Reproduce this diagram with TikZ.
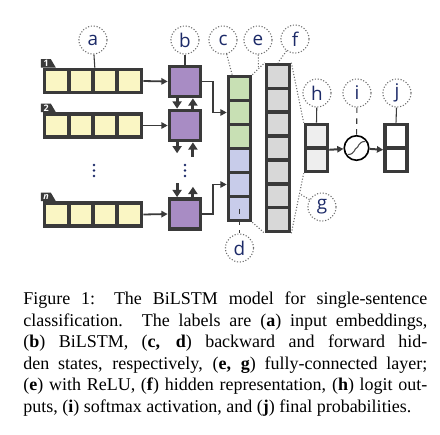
\documentclass[tikz,border=0pt]{standalone}
\usepackage{fontspec}
\setmainfont{Liberation Serif}
\setsansfont{Open Sans}
\usetikzlibrary{arrows.meta, positioning, calc}
\definecolor{cLine}{RGB}{58,58,58}
\definecolor{cEmb}{RGB}{250,246,196}
\definecolor{cLstm}{RGB}{168,140,196}
\definecolor{cBack}{RGB}{200,224,180}
\definecolor{cFwd}{RGB}{200,204,234}
\definecolor{cHid}{RGB}{216,216,216}
\definecolor{cLogit}{RGB}{238,238,238}
\definecolor{cTag}{RGB}{28,42,104}
\tikzset{
	embcell/.style ={rectangle, draw=cLine, line width=2pt, fill=cEmb, minimum width=13.5pt, minimum height=12.8pt, inner sep=0pt},
	lstm/.style    ={rectangle, draw=cLine, line width=2pt, fill=cLstm, minimum width=17.2pt, minimum height=16.7pt, inner sep=0pt},
	vcell/.style   ={rectangle, draw=cLine, line width=2pt, minimum width=12.2pt, minimum height=13.3pt, inner sep=0pt},
	hcell/.style   ={rectangle, draw=cLine, line width=2pt, fill=cHid, minimum width=12.8pt, minimum height=13.26pt, inner sep=0pt},
	ocell/.style   ={rectangle, draw=cLine, line width=2pt, minimum width=12.2pt, minimum height=13.06pt, inner sep=0pt},
	rowno/.style   ={inner sep=0pt, text=white, font=\sffamily\bfseries\fontsize{5}{5}\selectfont},
	% label bubbles
	tag/.style     ={circle, draw=gray!85!black, densely dotted, line width=0.6pt, fill=white, minimum size=15.6pt, inner sep=0pt, text=cTag, font=\sffamily\fontsize{10.5}{10.5}\selectfont},
	tagline/.style ={cLine, line width=0.6pt},
	tagdash/.style ={cLine, line width=0.6pt, dashed},
	dotline/.style ={gray!85!black, line width=0.6pt, densely dotted},
	% signal arrows
	sig/.style     ={-{Triangle[length=3.5pt, width=3.5pt]}, cLine, line width=1pt},
	rec/.style     ={-{Triangle[length=4pt, width=5pt]}, cLine, line width=1.7pt},
	caption/.style ={anchor=north west, inner sep=0pt, text width=224.5pt, align=justify, font=\fontsize{10}{12}\selectfont},
}
\begin{document}
\begin{tikzpicture}[x=0.5556pt, y=-0.5556pt]
\useasboundingbox (0,0) rectangle (440,434);
% input embeddings
\foreach \r/\y/\t in {1/81/1, 2/125.5/2, n/214.5/\textit{n}} {
	\foreach \k in {1,...,4}
		\node[embcell] (e\r-\k) at ({56.6+24.25*(\k-1)},\y) {};
	\fill[cLine] (e\r-1.north west) ++(-1.8,0) -- ++(0,-8.5) -- ++(10,0) -- ++(5,8.5) -- cycle;
	\node[rowno] (n\r) at ($(e\r-1.north west)+(3.5,-4.2)$) {\t};
}
% BiLSTM cells
\node[lstm] (l1) at (185,81.5) {};
\node[lstm] (l2) at (185,125.5) {};
\node[lstm] (ln) at (185,214) {};
\coordinate (gapT) at (185,156);
\coordinate (gapB) at (185,185);
\foreach \r in {1,2,n}
	\draw[sig] (e\r-4.east) -- (l\r.west);
\draw[rec] ([xshift=-4.4pt]l1.south) -- ([xshift=-4.4pt]l2.north);
\draw[rec] ([xshift=4.4pt]l2.north) -- ([xshift=4.4pt]l1.south);
\draw[rec] ([xshift=-4.4pt]l2.south) -- ([xshift=-4.4pt,yshift=1.5pt]gapT);
\draw[rec] ([xshift=4.4pt,yshift=-0.5pt]gapT) -- ([xshift=4.4pt]l2.south);
\draw[rec] ([xshift=-4.4pt,yshift=1pt]gapB) -- ([xshift=-4.4pt]ln.north);
\draw[rec] ([xshift=4.4pt]ln.north) -- ([xshift=4.4pt,yshift=-1pt]gapB);
\foreach \x in {94,185}
	\foreach \y in {165,170.5,176}
		\fill[cTag] (\x,\y) circle (1.4);
% backward / forward states
\foreach \k/\y in {1/88.5, 2/112.5, 3/136.5}
	\node[vcell, fill=cBack] (c\k) at (239.5,\y) {};
\foreach \k/\y in {4/160.5, 5/184.5, 6/208.5}
	\node[vcell, fill=cFwd] (c\k) at (239.5,\y) {};
\draw[sig, line width=0.9pt] (l1.east) -- ++(11,0) |- (c2.west);
\draw[sig, line width=0.9pt] (ln.east) -- ++(11,0) |- (c5.west);
% hidden representation
\foreach \k in {1,...,7}
	\node[hcell] (f\k) at (278,{76.4+23.86*(\k-1)}) {};
% logits, softmax, probabilities
\node[ocell, fill=cLogit] (h1) at (316.5,136.25) {};
\node[ocell, fill=cLogit] (h2) at (316.5,159.75) {};
\node[ocell, fill=white] (j1) at (396,136.25) {};
\node[ocell, fill=white] (j2) at (396,159.75) {};
\node[circle, draw=black, line width=0.9pt, minimum size=13.6pt, inner sep=0pt] (sg) at (356.5,148) {};
\draw[gray!60!black, line width=0.6pt] (348,154.5) .. controls (355,154.5) and (354.5,148) .. (356.5,148) .. controls (358.5,148) and (358,141.5) .. (365,141.5);
\draw[sig, line width=1.1pt] (h1.south east) -- (sg);
\draw[sig, line width=1.1pt] (sg) -- (j1.south west);
% fully-connected projections
\draw[dotline] (c1.north east) -- (f1.north west);
\draw[dotline] (c6.south east) -- (f7.south west);
\draw[dotline] (f1.north east) -- (h1.north west);
\draw[dotline] (f7.south east) -- (h2.south west);
% label bubbles
\node[tag] (ta) at (93,40) {a};
\node[tag] (tb) at (185,40) {b};
\node[tag] (tc) at (223,40) {c};
\node[tag] (te) at (258,40) {e};
\node[tag] (tf) at (295,39) {f};
\node[tag] (th) at (317,93) {h};
\node[tag] (ti) at (357,93) {i};
\node[tag] (tj) at (397,93) {j};
\node[tag] (td) at (239.5,248) {d};
\node[tag] (tg) at (322,207) {g};
\draw[tagline] (ta) -- (e1-2.north east);
\draw[tagline] (tb) -- (l1.north);
\draw[dotline] (tc) -- ([xshift=3pt]c1.north west);
\draw[dotline] (te) -- ($(c1.north east)!0.5!(f1.north west)$);
\draw[dotline] (tf) -- (f1.north);
\draw[tagline] (th) -- (h1.north);
\draw[tagdash] (ti) -- (sg);
\draw[tagline] (tj) -- (j1.north);
\draw[tagdash] (c6.center) -- (td);
\draw[dotline] (tg) -- ($(f7.south east)!0.66!(h2.south west)$);
% caption
\node[caption] (cap) at (23,291.5) {Figure 1: The BiLSTM model for single-sentence\linebreak
classification. The labels are (\textbf{a}) input embeddings,\linebreak
(\textbf{b}) BiLSTM, (\textbf{c, d}) backward and forward hid-\linebreak
den states, respectively, (\textbf{e, g}) fully-connected layer;\linebreak
(\textbf{e}) with ReLU, (\textbf{f}) hidden representation, (\textbf{h}) logit out-\linebreak
puts, (\textbf{i}) softmax activation, and (\textbf{j}) final probabilities.};
\end{tikzpicture}
\end{document}
